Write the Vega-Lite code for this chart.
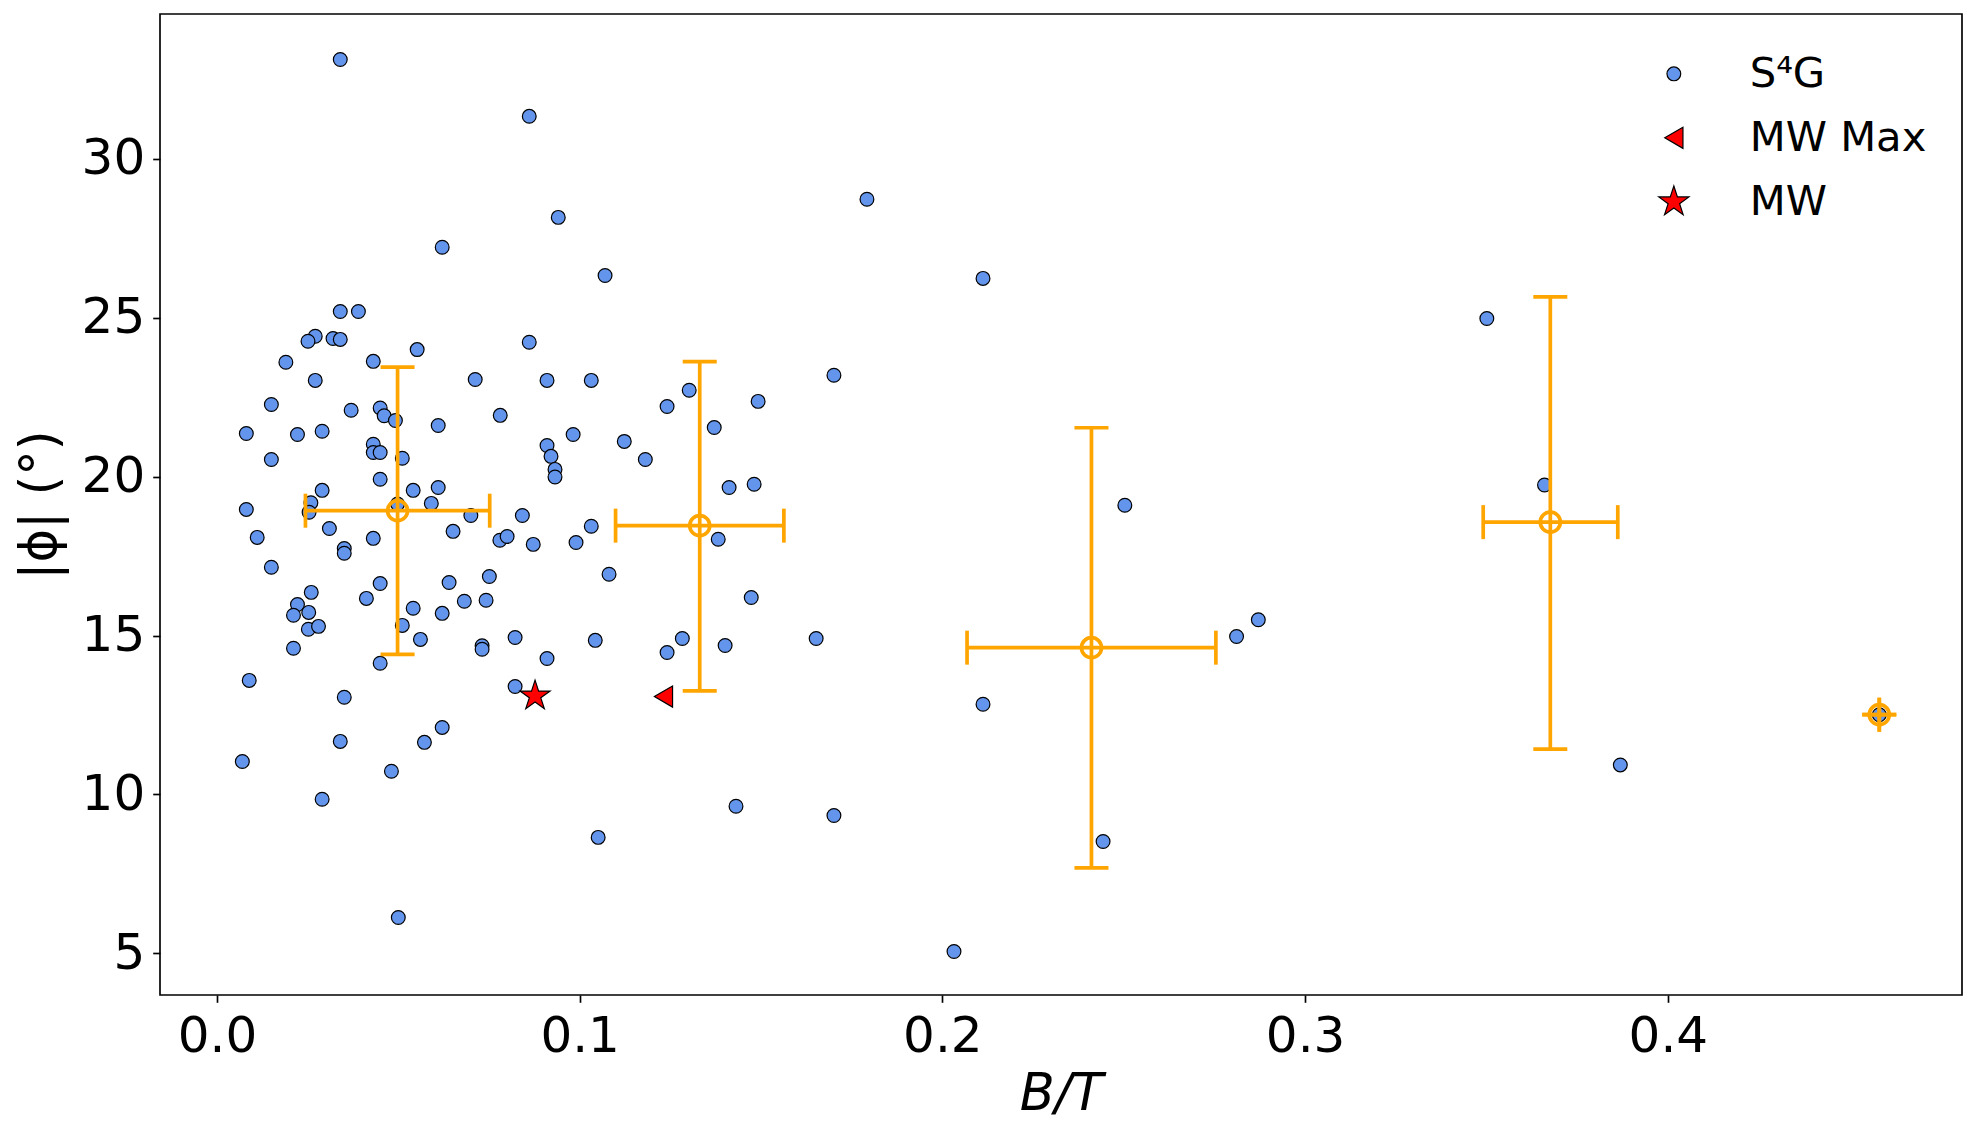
{
  "$schema": "https://vega.github.io/schema/vega-lite/v6.json",
  "width": 1802,
  "height": 981,
  "autosize": {"type": "none"},
  "padding": {"left": 160, "top": 14, "right": 15, "bottom": 139},
  "background": "white",
  "datasets": {
    "pts": [
      {"bt":0.0340,"phi":33.13,"series":"S⁴G"},{"bt":0.0861,"phi":31.34,"series":"S⁴G"},{"bt":0.0941,"phi":28.16,"series":"S⁴G"},
      {"bt":0.0621,"phi":27.22,"series":"S⁴G"},{"bt":0.1070,"phi":26.33,"series":"S⁴G"},{"bt":0.0340,"phi":25.20,"series":"S⁴G"},
      {"bt":0.0390,"phi":25.20,"series":"S⁴G"},{"bt":0.0271,"phi":24.42,"series":"S⁴G"},{"bt":0.0251,"phi":24.26,"series":"S⁴G"},
      {"bt":0.0320,"phi":24.35,"series":"S⁴G"},{"bt":0.0340,"phi":24.32,"series":"S⁴G"},{"bt":0.0552,"phi":24.00,"series":"S⁴G"},
      {"bt":0.0861,"phi":24.23,"series":"S⁴G"},{"bt":0.0190,"phi":23.60,"series":"S⁴G"},{"bt":0.0431,"phi":23.63,"series":"S⁴G"},
      {"bt":0.0271,"phi":23.03,"series":"S⁴G"},{"bt":0.0712,"phi":23.06,"series":"S⁴G"},{"bt":0.0910,"phi":23.03,"series":"S⁴G"},
      {"bt":0.1032,"phi":23.03,"series":"S⁴G"},{"bt":0.0150,"phi":22.27,"series":"S⁴G"},{"bt":0.0370,"phi":22.09,"series":"S⁴G"},
      {"bt":0.0450,"phi":22.16,"series":"S⁴G"},{"bt":0.0461,"phi":21.92,"series":"S⁴G"},{"bt":0.0492,"phi":21.77,"series":"S⁴G"},
      {"bt":0.0781,"phi":21.93,"series":"S⁴G"},{"bt":0.0610,"phi":21.61,"series":"S⁴G"},{"bt":0.0081,"phi":21.36,"series":"S⁴G"},
      {"bt":0.0222,"phi":21.33,"series":"S⁴G"},{"bt":0.0290,"phi":21.43,"series":"S⁴G"},{"bt":0.0982,"phi":21.33,"series":"S⁴G"},
      {"bt":0.1123,"phi":21.11,"series":"S⁴G"},{"bt":0.0431,"phi":21.02,"series":"S⁴G"},{"bt":0.0431,"phi":20.76,"series":"S⁴G"},
      {"bt":0.0450,"phi":20.76,"series":"S⁴G"},{"bt":0.0511,"phi":20.58,"series":"S⁴G"},{"bt":0.0150,"phi":20.54,"series":"S⁴G"},
      {"bt":0.0910,"phi":20.98,"series":"S⁴G"},{"bt":0.0921,"phi":20.64,"series":"S⁴G"},{"bt":0.0932,"phi":20.23,"series":"S⁴G"},
      {"bt":0.0932,"phi":19.99,"series":"S⁴G"},{"bt":0.1181,"phi":20.54,"series":"S⁴G"},{"bt":0.0450,"phi":19.92,"series":"S⁴G"},
      {"bt":0.0290,"phi":19.57,"series":"S⁴G"},{"bt":0.0541,"phi":19.57,"series":"S⁴G"},{"bt":0.0610,"phi":19.66,"series":"S⁴G"},
      {"bt":0.0081,"phi":18.97,"series":"S⁴G"},{"bt":0.0259,"phi":19.18,"series":"S⁴G"},{"bt":0.0254,"phi":18.88,"series":"S⁴G"},
      {"bt":0.0498,"phi":19.14,"series":"S⁴G"},{"bt":0.0591,"phi":19.16,"series":"S⁴G"},{"bt":0.0700,"phi":18.78,"series":"S⁴G"},
      {"bt":0.0842,"phi":18.78,"series":"S⁴G"},{"bt":0.0111,"phi":18.09,"series":"S⁴G"},{"bt":0.0310,"phi":18.37,"series":"S⁴G"},
      {"bt":0.0431,"phi":18.06,"series":"S⁴G"},{"bt":0.0351,"phi":17.74,"series":"S⁴G"},{"bt":0.0351,"phi":17.59,"series":"S⁴G"},
      {"bt":0.0651,"phi":18.28,"series":"S⁴G"},{"bt":0.0780,"phi":18.00,"series":"S⁴G"},{"bt":0.0800,"phi":18.12,"series":"S⁴G"},
      {"bt":0.0872,"phi":17.87,"series":"S⁴G"},{"bt":0.0990,"phi":17.93,"series":"S⁴G"},{"bt":0.1032,"phi":18.44,"series":"S⁴G"},
      {"bt":0.0150,"phi":17.15,"series":"S⁴G"},{"bt":0.1081,"phi":16.93,"series":"S⁴G"},{"bt":0.0260,"phi":16.36,"series":"S⁴G"},
      {"bt":0.0450,"phi":16.64,"series":"S⁴G"},{"bt":0.0412,"phi":16.17,"series":"S⁴G"},{"bt":0.0640,"phi":16.67,"series":"S⁴G"},
      {"bt":0.0751,"phi":16.86,"series":"S⁴G"},{"bt":0.0222,"phi":15.98,"series":"S⁴G"},{"bt":0.0253,"phi":15.73,"series":"S⁴G"},
      {"bt":0.0211,"phi":15.64,"series":"S⁴G"},{"bt":0.0252,"phi":15.20,"series":"S⁴G"},{"bt":0.0280,"phi":15.29,"series":"S⁴G"},
      {"bt":0.0682,"phi":16.08,"series":"S⁴G"},{"bt":0.0742,"phi":16.11,"series":"S⁴G"},{"bt":0.0541,"phi":15.86,"series":"S⁴G"},
      {"bt":0.0621,"phi":15.70,"series":"S⁴G"},{"bt":0.0511,"phi":15.32,"series":"S⁴G"},{"bt":0.0561,"phi":14.88,"series":"S⁴G"},
      {"bt":0.0211,"phi":14.60,"series":"S⁴G"},{"bt":0.0731,"phi":14.68,"series":"S⁴G"},{"bt":0.0731,"phi":14.57,"series":"S⁴G"},
      {"bt":0.0822,"phi":14.94,"series":"S⁴G"},{"bt":0.0910,"phi":14.28,"series":"S⁴G"},{"bt":0.1043,"phi":14.85,"series":"S⁴G"},
      {"bt":0.0450,"phi":14.13,"series":"S⁴G"},{"bt":0.0089,"phi":13.59,"series":"S⁴G"},{"bt":0.0351,"phi":13.06,"series":"S⁴G"},
      {"bt":0.0822,"phi":13.40,"series":"S⁴G"},{"bt":0.0621,"phi":12.11,"series":"S⁴G"},{"bt":0.0572,"phi":11.64,"series":"S⁴G"},
      {"bt":0.0340,"phi":11.67,"series":"S⁴G"},{"bt":0.0070,"phi":11.04,"series":"S⁴G"},{"bt":0.0481,"phi":10.73,"series":"S⁴G"},
      {"bt":0.0290,"phi":9.85,"series":"S⁴G"},{"bt":0.1051,"phi":8.65,"series":"S⁴G"},{"bt":0.0500,"phi":6.13,"series":"S⁴G"},
      {"bt":0.1792,"phi":28.73,"series":"S⁴G"},{"bt":0.2112,"phi":26.24,"series":"S⁴G"},{"bt":0.1701,"phi":23.19,"series":"S⁴G"},
      {"bt":0.1302,"phi":22.72,"series":"S⁴G"},{"bt":0.1241,"phi":22.21,"series":"S⁴G"},{"bt":0.1492,"phi":22.37,"series":"S⁴G"},
      {"bt":0.1371,"phi":21.55,"series":"S⁴G"},{"bt":0.1412,"phi":19.66,"series":"S⁴G"},{"bt":0.1481,"phi":19.76,"series":"S⁴G"},
      {"bt":0.1382,"phi":18.03,"series":"S⁴G"},{"bt":0.1473,"phi":16.20,"series":"S⁴G"},{"bt":0.1283,"phi":14.91,"series":"S⁴G"},
      {"bt":0.1241,"phi":14.47,"series":"S⁴G"},{"bt":0.1401,"phi":14.69,"series":"S⁴G"},{"bt":0.1652,"phi":14.91,"series":"S⁴G"},
      {"bt":0.2112,"phi":12.84,"series":"S⁴G"},{"bt":0.1431,"phi":9.63,"series":"S⁴G"},{"bt":0.1701,"phi":9.34,"series":"S⁴G"},
      {"bt":0.2032,"phi":5.06,"series":"S⁴G"},{"bt":0.2443,"phi":8.52,"series":"S⁴G"},{"bt":0.2503,"phi":19.10,"series":"S⁴G"},
      {"bt":0.3501,"phi":24.98,"series":"S⁴G"},{"bt":0.3660,"phi":19.74,"series":"S⁴G"},{"bt":0.2871,"phi":15.50,"series":"S⁴G"},
      {"bt":0.2811,"phi":14.97,"series":"S⁴G"},{"bt":0.3869,"phi":10.93,"series":"S⁴G"},{"bt":0.4583,"phi":12.51,"series":"S⁴G"}
    ],
    "mw": [
      {"bt":0.1231,"phi":13.08,"series":"MW Max"},
      {"bt":0.0877,"phi":13.10,"series":"MW"}
    ],
    "eb": [
      {"x":0.0498,"y":18.93,"xlo":0.0244,"xhi":0.0752,"ylo":14.41,"yhi":23.45},
      {"x":0.1331,"y":18.46,"xlo":0.1099,"xhi":0.1563,"ylo":13.26,"yhi":23.62},
      {"x":0.2411,"y":14.62,"xlo":0.2068,"xhi":0.2754,"ylo":7.69,"yhi":21.54},
      {"x":0.3676,"y":18.57,"xlo":0.3491,"xhi":0.3862,"ylo":11.43,"yhi":25.66},
      {"x":0.4583,"y":12.51,"xlo":0.4583,"xhi":0.4583,"ylo":12.51,"yhi":12.51}
    ]
  },
  "layer": [
    {
      "data": {"name": "pts"},
      "mark": {"type": "point", "filled": true, "stroke": "black", "strokeWidth": 1.2, "opacity": 1},
      "encoding": {
        "x": {"field": "bt", "type": "quantitative", "title": "B/T", "scale": {"domain": [-0.0157, 0.4811], "nice": false, "zero": false}, "axis": {"values": [0, 0.1, 0.2, 0.3, 0.4], "format": ".1f"}},
        "y": {"field": "phi", "type": "quantitative", "title": "|ϕ| (°)", "scale": {"domain": [3.69, 34.56], "nice": false, "zero": false}, "axis": {"values": [5, 10, 15, 20, 25, 30], "format": "d"}},
        "color": {"field": "series", "type": "ordinal", "title": null, "scale": {"domain": ["S⁴G", "MW Max", "MW"], "range": ["#6495ED", "#FF0000", "#FF0000"]}, "legend": {"encode": {"symbols": {"update": {"stroke": {"value": "black"}, "strokeWidth": {"value": 1.2}}}}}},
        "shape": {"field": "series", "type": "ordinal", "title": null, "scale": {"domain": ["S⁴G", "MW Max", "MW"], "range": ["circle", "triangle-left", "M0,-1L0.2245,-0.309L0.9511,-0.309L0.3633,0.118L0.5878,0.809L0,0.382L-0.5878,0.809L-0.3633,0.118L-0.9511,-0.309L-0.2245,-0.309Z"]}},
        "size": {"field": "series", "type": "ordinal", "title": null, "scale": {"type": "ordinal", "domain": ["S⁴G", "MW Max", "MW"], "range": [190, 441, 1000]}}
      }
    },
    {
      "data": {"name": "eb"},
      "mark": {"type": "rule", "color": "#FFA500", "strokeWidth": 3.7},
      "encoding": {
        "x": {"field": "x", "type": "quantitative", "title": "B/T", "scale": {"domain": [-0.0157, 0.4811], "nice": false, "zero": false}, "axis": {"values": [0, 0.1, 0.2, 0.3, 0.4], "format": ".1f"}},
        "y": {"field": "ylo", "type": "quantitative", "title": "|ϕ| (°)", "scale": {"domain": [3.69, 34.56], "nice": false, "zero": false}, "axis": {"values": [5, 10, 15, 20, 25, 30], "format": "d"}},
        "y2": {"field": "yhi"}
      }
    },
    {
      "data": {"name": "eb"},
      "mark": {"type": "rule", "color": "#FFA500", "strokeWidth": 3.7},
      "encoding": {
        "x": {"field": "xlo", "type": "quantitative", "title": "B/T", "scale": {"domain": [-0.0157, 0.4811], "nice": false, "zero": false}, "axis": {"values": [0, 0.1, 0.2, 0.3, 0.4], "format": ".1f"}},
        "x2": {"field": "xhi"},
        "y": {"field": "y", "type": "quantitative", "title": "|ϕ| (°)", "scale": {"domain": [3.69, 34.56], "nice": false, "zero": false}, "axis": {"values": [5, 10, 15, 20, 25, 30], "format": "d"}}
      }
    },
    {
      "data": {"name": "eb"},
      "mark": {"type": "tick", "orient": "horizontal", "color": "#FFA500", "size": 34, "thickness": 3.7, "opacity": 1},
      "encoding": {
        "x": {"field": "x", "type": "quantitative", "title": "B/T", "scale": {"domain": [-0.0157, 0.4811], "nice": false, "zero": false}, "axis": {"values": [0, 0.1, 0.2, 0.3, 0.4], "format": ".1f"}},
        "y": {"field": "ylo", "type": "quantitative", "title": "|ϕ| (°)", "scale": {"domain": [3.69, 34.56], "nice": false, "zero": false}, "axis": {"values": [5, 10, 15, 20, 25, 30], "format": "d"}}
      }
    },
    {
      "data": {"name": "eb"},
      "mark": {"type": "tick", "orient": "horizontal", "color": "#FFA500", "size": 34, "thickness": 3.7, "opacity": 1},
      "encoding": {
        "x": {"field": "x", "type": "quantitative", "title": "B/T", "scale": {"domain": [-0.0157, 0.4811], "nice": false, "zero": false}, "axis": {"values": [0, 0.1, 0.2, 0.3, 0.4], "format": ".1f"}},
        "y": {"field": "yhi", "type": "quantitative", "title": "|ϕ| (°)", "scale": {"domain": [3.69, 34.56], "nice": false, "zero": false}, "axis": {"values": [5, 10, 15, 20, 25, 30], "format": "d"}}
      }
    },
    {
      "data": {"name": "eb"},
      "mark": {"type": "tick", "orient": "vertical", "color": "#FFA500", "size": 34, "thickness": 3.7, "opacity": 1},
      "encoding": {
        "x": {"field": "xlo", "type": "quantitative", "title": "B/T", "scale": {"domain": [-0.0157, 0.4811], "nice": false, "zero": false}, "axis": {"values": [0, 0.1, 0.2, 0.3, 0.4], "format": ".1f"}},
        "y": {"field": "y", "type": "quantitative", "title": "|ϕ| (°)", "scale": {"domain": [3.69, 34.56], "nice": false, "zero": false}, "axis": {"values": [5, 10, 15, 20, 25, 30], "format": "d"}}
      }
    },
    {
      "data": {"name": "eb"},
      "mark": {"type": "tick", "orient": "vertical", "color": "#FFA500", "size": 34, "thickness": 3.7, "opacity": 1},
      "encoding": {
        "x": {"field": "xhi", "type": "quantitative", "title": "B/T", "scale": {"domain": [-0.0157, 0.4811], "nice": false, "zero": false}, "axis": {"values": [0, 0.1, 0.2, 0.3, 0.4], "format": ".1f"}},
        "y": {"field": "y", "type": "quantitative", "title": "|ϕ| (°)", "scale": {"domain": [3.69, 34.56], "nice": false, "zero": false}, "axis": {"values": [5, 10, 15, 20, 25, 30], "format": "d"}}
      }
    },
    {
      "data": {"name": "eb"},
      "mark": {"type": "point", "filled": false, "color": "#FFA500", "strokeWidth": 3.7, "size": 400, "opacity": 1},
      "encoding": {
        "x": {"field": "x", "type": "quantitative", "title": "B/T", "scale": {"domain": [-0.0157, 0.4811], "nice": false, "zero": false}, "axis": {"values": [0, 0.1, 0.2, 0.3, 0.4], "format": ".1f"}},
        "y": {"field": "y", "type": "quantitative", "title": "|ϕ| (°)", "scale": {"domain": [3.69, 34.56], "nice": false, "zero": false}, "axis": {"values": [5, 10, 15, 20, 25, 30], "format": "d"}}
      }
    },
    {
      "data": {"name": "mw"},
      "mark": {"type": "point", "filled": true, "stroke": "black", "strokeWidth": 1.2, "opacity": 1},
      "encoding": {
        "x": {"field": "bt", "type": "quantitative", "title": "B/T", "scale": {"domain": [-0.0157, 0.4811], "nice": false, "zero": false}, "axis": {"values": [0, 0.1, 0.2, 0.3, 0.4], "format": ".1f"}},
        "y": {"field": "phi", "type": "quantitative", "title": "|ϕ| (°)", "scale": {"domain": [3.69, 34.56], "nice": false, "zero": false}, "axis": {"values": [5, 10, 15, 20, 25, 30], "format": "d"}},
        "color": {"field": "series", "type": "ordinal", "title": null, "scale": {"domain": ["S⁴G", "MW Max", "MW"], "range": ["#6495ED", "#FF0000", "#FF0000"]}, "legend": {"encode": {"symbols": {"update": {"stroke": {"value": "black"}, "strokeWidth": {"value": 1.2}}}}}},
        "shape": {"field": "series", "type": "ordinal", "title": null, "scale": {"domain": ["S⁴G", "MW Max", "MW"], "range": ["circle", "triangle-left", "M0,-1L0.2245,-0.309L0.9511,-0.309L0.3633,0.118L0.5878,0.809L0,0.382L-0.5878,0.809L-0.3633,0.118L-0.9511,-0.309L-0.2245,-0.309Z"]}},
        "size": {"field": "series", "type": "ordinal", "title": null, "scale": {"type": "ordinal", "domain": ["S⁴G", "MW Max", "MW"], "range": [190, 441, 1000]}}
      }
    }
  ],
  "config": {
    "font": "DejaVu Sans",
    "view": {"stroke": "black", "strokeWidth": 1.67},
    "axis": {
      "grid": false,
      "domain": false,
      "tickColor": "black",
      "tickWidth": 1.67,
      "tickSize": 7.3,
      "labelColor": "black",
      "labelFont": "DejaVu Sans",
      "labelFontSize": 50,
      "labelFlush": false,
      "labelOverlap": false,
      "titleFont": "DejaVu Sans",
      "titleFontSize": 51,
      "titleFontWeight": "normal",
      "titleColor": "black"
    },
    "axisX": {
      "labelPadding": 9,
      "titleFontStyle": "italic",
      "titleBaseline": "alphabetic",
      "titleX": 901,
      "titleY": 114
    },
    "axisY": {
      "labelPadding": 8,
      "titleAngle": 270,
      "titleBaseline": "alphabetic",
      "titleX": -104.5,
      "titleY": 490.5
    },
    "legend": {
      "orient": "none",
      "legendX": 1493,
      "legendY": 39,
      "padding": 0,
      "labelFont": "DejaVu Sans",
      "labelFontSize": 41.7,
      "labelColor": "black",
      "labelLimit": 500,
      "labelOffset": 55,
      "rowPadding": 21,
      "symbolStrokeColor": "black",
      "symbolStrokeWidth": 1.2,
      "symbolOpacity": 1
    }
  }
}
